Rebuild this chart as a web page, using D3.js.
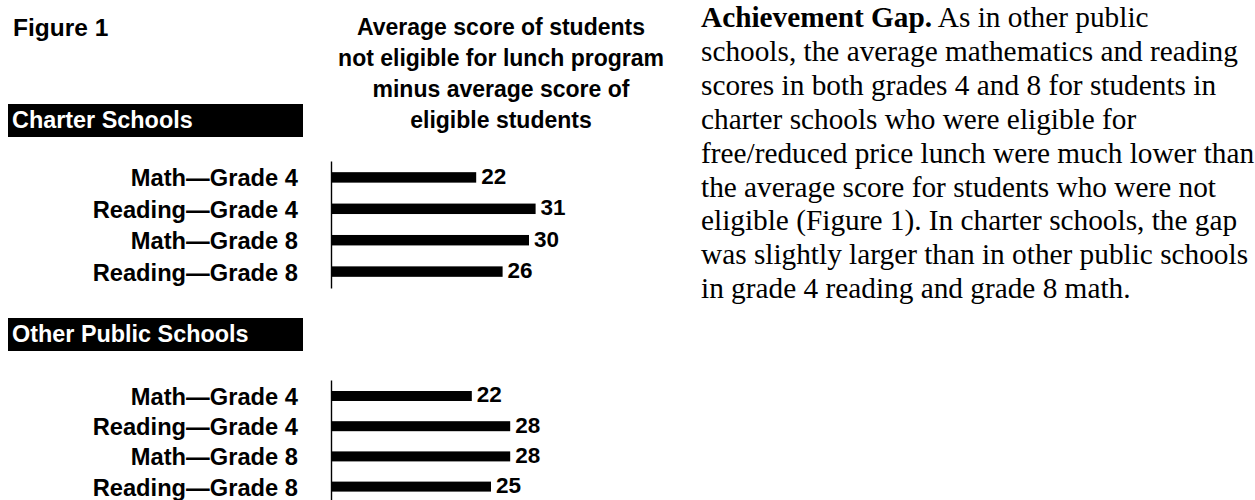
<!DOCTYPE html>
<html>
<head>
<meta charset="utf-8">
<script src="https://cdn.jsdelivr.net/npm/d3@7"></script>
<style>
  body { margin: 0; background: #fff; }
  svg { display: block; }
  .sans { font-family: "Liberation Sans", Arial, Helvetica, sans-serif; font-weight: bold; }
</style>
</head>
<body>
<svg id="figure"></svg>
<script>
const categories = ["Math\u2014Grade 4", "Reading\u2014Grade 4", "Math\u2014Grade 8", "Reading\u2014Grade 8"];
const charterValues = [22, 31, 30, 26];
const otherPublicValues = [22, 28, 28, 25];
const panelTitles = ["Charter Schools", "Other Public Schools"];
const titleLines = [
  "Average score of students",
  "not eligible for lunch program",
  "minus average score of",
  "eligible students"
];
const paragraphLead = "Achievement Gap.";
const paragraphLines = [
  " As in other public",
  "schools, the average mathematics and reading",
  "scores in both grades 4 and 8 for students in",
  "charter schools who were eligible for",
  "free/reduced price lunch were much lower than",
  "the average score for students who were not",
  "eligible (Figure 1). In charter schools, the gap",
  "was slightly larger than in other public schools",
  "in grade 4 reading and grade 8 math."
];

const svgObj = { width: 1255, height: 500, axisX: 331 };

const svg = d3.select("#figure")
  .attr("width", svgObj.width)
  .attr("height", svgObj.height);

svg.append("text")
  .attr("class", "sans")
  .attr("x", 13)
  .attr("y", 36)
  .attr("font-size", 24.5)
  .text("Figure 1");

svg.append("g")
  .selectAll("text")
  .data(titleLines)
  .join("text")
  .attr("class", "sans")
  .attr("x", 501)
  .attr("y", (d, i) => 35 + i * 31)
  .attr("text-anchor", "middle")
  .attr("font-size", 23)
  .text(d => d);

// one panel per school type, each with its own header bar
const panels = [
  { title: panelTitles[0], values: charterValues, headerY: 104, yRange: [161, 288], pad: [0.667, 0.356], unit: 6.6 },
  { title: panelTitles[1], values: otherPublicValues, headerY: 318, yRange: [380, 502.6], pad: [0.669, 0.364], unit: 6.4 }
];

panels.forEach(p => {
  svg.append("rect")
    .attr("x", 8)
    .attr("y", p.headerY)
    .attr("width", 295)
    .attr("height", 33)
    .attr("fill", "black");

  svg.append("text")
    .attr("class", "sans")
    .attr("x", 12)
    .attr("y", p.headerY + 24)
    .attr("font-size", 23.4)
    .attr("fill", "white")
    .text(p.title);

  const maxVal = d3.max(p.values);
  const x = d3.scaleLinear()
    .domain([0, maxVal])
    .range([svgObj.axisX, svgObj.axisX + maxVal * p.unit]);

  const y = d3.scaleBand()
    .domain(categories)
    .range(p.yRange)
    .paddingInner(p.pad[0])
    .paddingOuter(p.pad[1]);

  const axis = svg.append("g")
    .attr("transform", `translate(${svgObj.axisX},0)`)
    .call(d3.axisLeft(y).tickSize(0).tickPadding(33));

  axis.select(".domain").attr("stroke", "black").attr("stroke-width", 1.4);
  axis.selectAll("text")
    .attr("class", "sans")
    .attr("font-size", 23.7)
    .attr("fill", "black")
    .attr("dy", "0.38em");

  const rows = categories.map((c, i) => ({ cat: c, val: p.values[i] }));

  svg.append("g")
    .selectAll("rect")
    .data(rows)
    .join("rect")
    .attr("x", x(0))
    .attr("y", d => y(d.cat))
    .attr("width", d => x(d.val) - x(0))
    .attr("height", y.bandwidth())
    .attr("fill", "black");

  svg.append("g")
    .selectAll("text")
    .data(rows)
    .join("text")
    .attr("class", "sans")
    .attr("x", d => x(d.val) + 5)
    .attr("y", d => y(d.cat) + y.bandwidth() / 2 + 6.5)
    .attr("font-size", 22.5)
    .text(d => d.val);
});

const para = svg.append("text")
  .attr("font-family", "'Liberation Serif', 'Times New Roman', Times, serif")
  .attr("font-size", 29.3)
  .attr("fill", "black");

paragraphLines.forEach((line, i) => {
  if (i === 0) {
    para.append("tspan")
      .attr("x", 701)
      .attr("y", 27)
      .attr("font-weight", "bold")
      .text(paragraphLead);
    para.append("tspan").text(line);
  } else {
    para.append("tspan")
      .attr("x", 701)
      .attr("y", 27 + i * 33.9)
      .text(line);
  }
});
</script>
</body>
</html>
